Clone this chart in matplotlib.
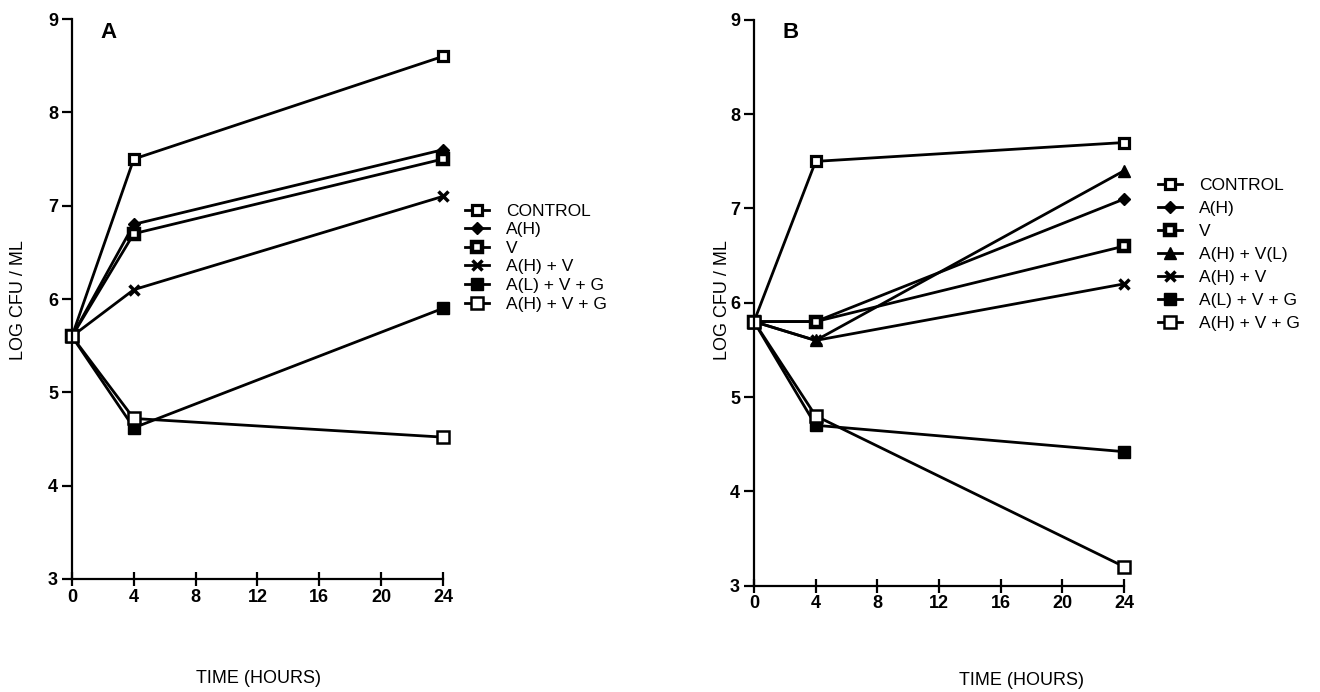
import numpy as np
import matplotlib.pyplot as plt

plt.rcParams['font.family'] = ['Liberation Sans', 'DejaVu Sans']

# time points (hours)
hours = [0, 4, 24]

# Panel A
labels_a = ['CONTROL', 'A(H)', 'V', 'A(H) + V', 'A(L) + V + G', 'A(H) + V + G']
vals_a = [
    [5.6, 7.5, 8.6],
    [5.6, 6.8, 7.6],
    [5.6, 6.7, 7.5],
    [5.6, 6.1, 7.1],
    [5.6, 4.62, 5.9],
    [5.6, 4.72, 4.52],
]

# Panel B
labels_b = ['CONTROL', 'A(H)', 'V', 'A(H) + V(L)', 'A(H) + V', 'A(L) + V + G', 'A(H) + V + G']
vals_b = [
    [5.8, 7.5, 7.7],
    [5.8, 5.8, 7.1],
    [5.8, 5.8, 6.6],
    [5.8, 5.6, 7.4],
    [5.8, 5.6, 6.2],
    [5.8, 4.7, 4.42],
    [5.8, 4.8, 3.2],
]

# marker styles per label
styles = {
    'CONTROL': dict(marker='s', ms=7, mfc='white', mec='black', mew=2.3),
    'A(H)': dict(marker='D', ms=6, mfc='black', mec='black', mew=1),
    'V': dict(marker='s', ms=7, mfc='white', mec='black', mew=3.2),
    'A(H) + V(L)': dict(marker='^', ms=8, mfc='black', mec='black', mew=1),
    'A(H) + V': dict(marker='x', ms=7, mfc='black', mec='black', mew=2.5),
    'A(L) + V + G': dict(marker='s', ms=8, mfc='black', mec='black', mew=1),
    'A(H) + V + G': dict(marker='s', ms=9, mfc='white', mec='black', mew=1.8),
}

fig = plt.figure(figsize=(13.2, 6.92), dpi=100)
ax_a = fig.add_axes([0.0545, 0.1633, 0.2811, 0.8092])
ax_b = fig.add_axes([0.5712, 0.1539, 0.2803, 0.8172])


def draw(ax, labels, vals):
    for lab, v in zip(labels, vals):
        ax.plot(hours, v, color='black', lw=2, label=lab, clip_on=False, **styles[lab])
    ax.set_xlim(0, 24)
    ax.set_ylim(3, 9)
    ax.set_xticks([0, 4, 8, 12, 16, 20, 24])
    ax.set_yticks([3, 4, 5, 6, 7, 8, 9])
    ax.spines['top'].set_visible(False)
    ax.spines['right'].set_visible(False)
    ax.spines['left'].set_linewidth(1.6)
    ax.spines['bottom'].set_linewidth(1.6)
    ax.tick_params(axis='x', direction='inout', length=10, width=1.6, labelsize=13, pad=2)
    ax.tick_params(axis='y', direction='out', length=7, width=1.6, labelsize=13, pad=3)
    for t in ax.get_xticklabels() + ax.get_yticklabels():
        t.set_fontweight('bold')


draw(ax_a, labels_a, vals_a)
draw(ax_b, labels_b, vals_b)

ax_a.legend(loc='upper left', bbox_to_anchor=(0.352, 0.706), bbox_transform=fig.transFigure,
            frameon=False, fontsize=12.5, handlelength=1.4, handletextpad=1.0,
            labelspacing=0.2, borderaxespad=0, borderpad=0)
ax_b.legend(loc='upper left', bbox_to_anchor=(0.877, 0.743), bbox_transform=fig.transFigure,
            frameon=False, fontsize=12.5, handlelength=1.4, handletextpad=1.0,
            labelspacing=0.45, borderaxespad=0, borderpad=0)

fig.text(0.082, 0.953, 'A', fontsize=16, fontweight='bold', ha='center', va='center')
fig.text(0.599, 0.953, 'B', fontsize=16, fontweight='bold', ha='center', va='center')

fig.text(0.014, 0.566, 'LOG CFU / ML', rotation=90, fontsize=13, ha='center', va='center')
fig.text(0.547, 0.566, 'LOG CFU / ML', rotation=90, fontsize=13, ha='center', va='center')
fig.text(0.196, 0.02, 'TIME (HOURS)', fontsize=13, ha='center', va='center')
fig.text(0.774, 0.017, 'TIME (HOURS)', fontsize=13, ha='center', va='center')

fig.savefig('out.png', dpi=100)
